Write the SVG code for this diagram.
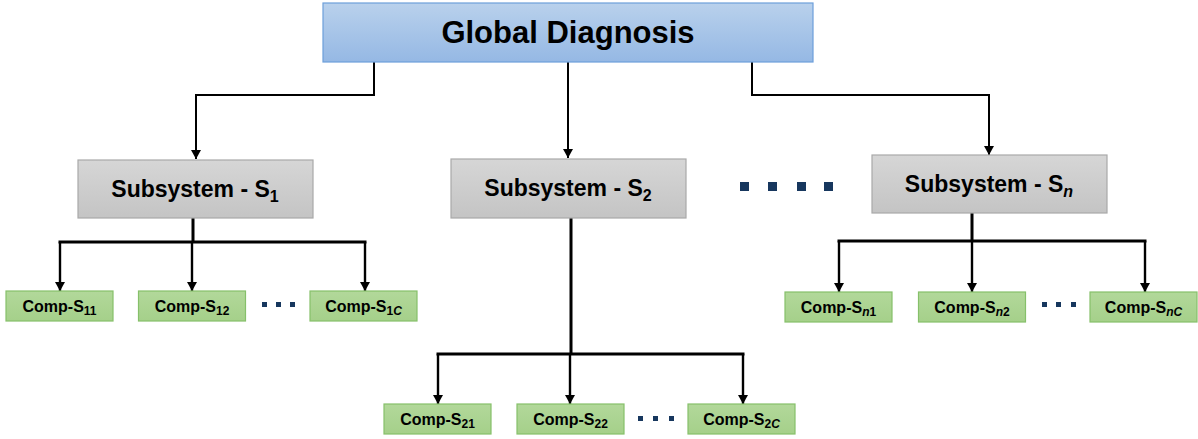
<svg xmlns="http://www.w3.org/2000/svg" width="1198" height="439" viewBox="0 0 1198 439">
<style>
text{font-family:"Liberation Sans",Arial,sans-serif;font-weight:bold;fill:#000;text-anchor:middle}
.g{font-size:31px}
.s{font-size:23px}
.c{font-size:16px}
.sub{font-size:12px}
.ssub{font-size:16px}
.it{font-style:italic}
.comp{fill:url(#gr);stroke:#86c06a;stroke-width:1.2}
.subsys{fill:url(#gy);stroke:#a9a9a9;stroke-width:1.2}
.ln{fill:none;stroke:#000;stroke-width:2}
.trunk{fill:none;stroke:#000;stroke-width:3}
.drop{fill:none;stroke:#000;stroke-width:2.4}
.dot{fill:#17375e}
</style>
<defs>
<linearGradient id="gb" x1="0" y1="0" x2="0" y2="1"><stop offset="0" stop-color="#b9d1ec"/><stop offset="1" stop-color="#95b8e4"/></linearGradient>
<linearGradient id="gy" x1="0" y1="0" x2="0" y2="1"><stop offset="0" stop-color="#d6d6d6"/><stop offset="1" stop-color="#c4c4c4"/></linearGradient>
<linearGradient id="gr" x1="0" y1="0" x2="0" y2="1"><stop offset="0" stop-color="#b2d89a"/><stop offset="1" stop-color="#a5d08a"/></linearGradient>
<marker id="ah" markerUnits="userSpaceOnUse" markerWidth="12" markerHeight="12" refX="9" refY="5" orient="auto"><path d="M0,0 L9,5 L0,10 z" fill="#000"/></marker>
</defs>

<g id="connectors">
<path class="ln" d="M374,62 V95 H196 V159" marker-end="url(#ah)"/>
<path class="ln" d="M568,62 V158" marker-end="url(#ah)"/>
<path class="ln" d="M752,62 V95 H989 V155" marker-end="url(#ah)"/>
<path class="trunk" d="M193,218 V242 M58.5,242 H366.5"/>
<path class="drop" d="M60,242 V291" marker-end="url(#ah)"/>
<path class="drop" d="M192,242 V291" marker-end="url(#ah)"/>
<path class="drop" d="M365,242 V291" marker-end="url(#ah)"/>
<path class="trunk" d="M571,218 V354 M436.5,354 H744.5"/>
<path class="drop" d="M438,354 V404" marker-end="url(#ah)"/>
<path class="drop" d="M570,354 V404" marker-end="url(#ah)"/>
<path class="drop" d="M743,354 V404" marker-end="url(#ah)"/>
<path class="trunk" d="M972,213 V241 M837.5,241 H1146.5"/>
<path class="drop" d="M839,241 V292" marker-end="url(#ah)"/>
<path class="drop" d="M972,241 V292" marker-end="url(#ah)"/>
<path class="drop" d="M1145,241 V292" marker-end="url(#ah)"/>
</g>

<g id="global">
<rect x="323" y="3" width="490" height="59" fill="url(#gb)" stroke="#6d9fda" stroke-width="1.2"/>
<text class="g" x="568" y="43">Global Diagnosis</text>
</g>

<g id="s1">
<rect class="subsys" x="78" y="160" width="235" height="58"/>
<text class="s" x="195" y="197">Subsystem - S<tspan class="ssub" dy="5">1</tspan></text>
</g>
<g id="s2">
<rect class="subsys" x="451" y="159" width="235" height="59"/>
<text class="s" x="568" y="196">Subsystem - S<tspan class="ssub" dy="5">2</tspan></text>
</g>
<g id="sn">
<rect class="subsys" x="872" y="155" width="235" height="58"/>
<text class="s" x="989" y="192">Subsystem - S<tspan class="ssub it" dy="5">n</tspan></text>
</g>

<g id="dots-main">
<rect class="dot" x="740" y="182" width="9" height="9"/>
<rect class="dot" x="768" y="182" width="9" height="9"/>
<rect class="dot" x="797" y="182" width="9" height="9"/>
<rect class="dot" x="824" y="182" width="9" height="9"/>
</g>

<g id="c11"><rect class="comp" x="6" y="291" width="107" height="30"/><text class="c" x="59.5" y="312">Comp-S<tspan class="sub" dy="3">11</tspan></text></g>
<g id="c12"><rect class="comp" x="138.5" y="291" width="107" height="30"/><text class="c" x="192" y="312">Comp-S<tspan class="sub" dy="3">12</tspan></text></g>
<g id="c1c"><rect class="comp" x="310" y="291" width="107" height="30"/><text class="c" x="363.5" y="312">Comp-S<tspan class="sub" dy="3">1<tspan class="it">C</tspan></tspan></text></g>
<g id="dots1">
<rect class="dot" x="262" y="302" width="5" height="5"/>
<rect class="dot" x="276" y="302" width="5" height="5"/>
<rect class="dot" x="290" y="302" width="5" height="5"/>
</g>

<g id="c21"><rect class="comp" x="384" y="404" width="107" height="30"/><text class="c" x="437.5" y="425">Comp-S<tspan class="sub" dy="3">21</tspan></text></g>
<g id="c22"><rect class="comp" x="517" y="404" width="107" height="30"/><text class="c" x="570.5" y="425">Comp-S<tspan class="sub" dy="3">22</tspan></text></g>
<g id="c2c"><rect class="comp" x="688" y="404" width="107" height="30"/><text class="c" x="741.5" y="425">Comp-S<tspan class="sub" dy="3">2<tspan class="it">C</tspan></tspan></text></g>
<g id="dots2">
<rect class="dot" x="638" y="416" width="5" height="5"/>
<rect class="dot" x="653" y="416" width="5" height="5"/>
<rect class="dot" x="669" y="416" width="5" height="5"/>
</g>

<g id="cn1"><rect class="comp" x="785" y="292" width="107" height="30"/><text class="c" x="838.5" y="313">Comp-S<tspan class="sub" dy="3"><tspan class="it">n</tspan>1</tspan></text></g>
<g id="cn2"><rect class="comp" x="918.5" y="292" width="107" height="30"/><text class="c" x="972" y="313">Comp-S<tspan class="sub" dy="3"><tspan class="it">n</tspan>2</tspan></text></g>
<g id="cnc"><rect class="comp" x="1090" y="292" width="107" height="30"/><text class="c" x="1143.5" y="313">Comp-S<tspan class="sub it" dy="3">nC</tspan></text></g>
<g id="dotsn">
<rect class="dot" x="1042" y="302" width="5" height="5"/>
<rect class="dot" x="1056" y="302" width="5" height="5"/>
<rect class="dot" x="1071" y="302" width="5" height="5"/>
</g>
</svg>
